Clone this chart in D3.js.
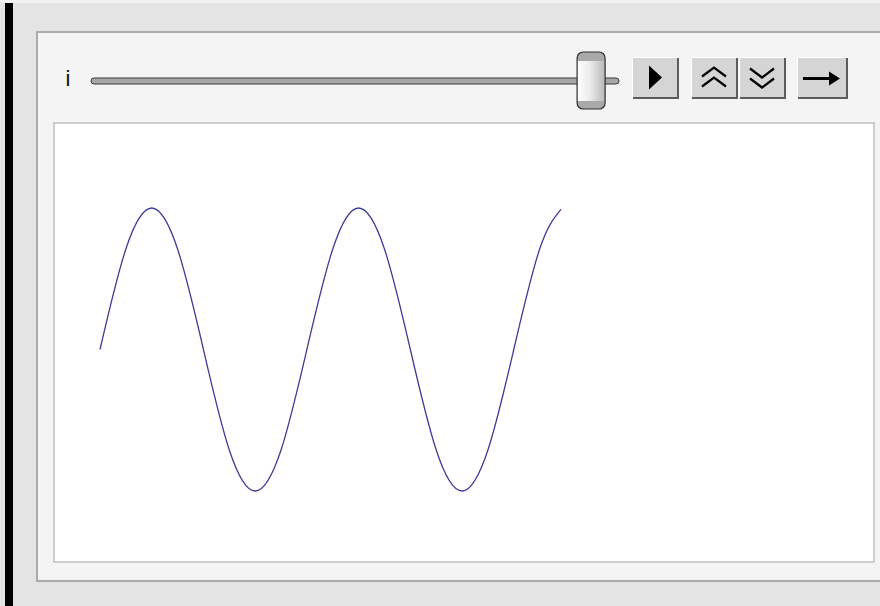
<!DOCTYPE html>
<html>
<head>
<meta charset="utf-8">
<script src="https://cdn.jsdelivr.net/npm/d3@7"></script>
<style>
html,body{margin:0;padding:0;background:#e4e4e4;overflow:hidden;}
svg{display:block;}
</style>
</head>
<body>
<svg id="chart" width="880" height="606"></svg>
<script>
// ---- data ----
const sliderLabel = "i";
const sliderValue = 14;
const sliderMin = 0;
const sliderMax = 14.4;
const xs = [0, 0.785, 1.571, 2.356, 3.142, 3.927, 4.712, 5.498, 6.283, 7.069, 7.854, 8.639, 9.425, 10.21, 10.996, 11.781, 12.566, 13.352, 14];
const ys = [0, 0.71, 1, 0.71, 0, -0.71, -1, -0.71, 0, 0.71, 1, 0.71, 0, -0.71, -1, -0.71, 0, 0.71, 0.99];
const buttons = ["play", "faster", "slower", "step"];

const svg = d3.select("#chart");

// page background and left bar
svg.append("rect").attr("x",0).attr("y",0).attr("width",880).attr("height",606).attr("fill","#e4e4e4");
svg.append("rect").attr("x",0).attr("y",0).attr("width",880).attr("height",3).attr("fill","#f2f2f2");
svg.append("rect").attr("x",5).attr("y",3).attr("width",8).attr("height",603).attr("fill","#000");

// outer panel
svg.append("rect").attr("x",37).attr("y",32).attr("width",860).attr("height",549)
  .attr("fill","#f4f4f4").attr("stroke","#ababab").attr("stroke-width",2);

// plot frame
svg.append("rect").attr("x",54).attr("y",123).attr("width",820).attr("height",439)
  .attr("fill","#ffffff").attr("stroke","#c3c3c3").attr("stroke-width",1.6);

// slider label
svg.append("text").attr("x",68).attr("y",86).attr("text-anchor","middle")
  .attr("font-family","Liberation Sans, Arial, sans-serif").attr("font-size",22)
  .attr("fill","#111").text(sliderLabel);

// slider track
const trackX0 = 91, trackX1 = 619, trackY = 81;
svg.append("rect").attr("x",trackX0).attr("y",trackY-3).attr("width",trackX1-trackX0).attr("height",6)
  .attr("rx",3).attr("fill","#a6a6a6").attr("stroke","#3a3a3a").attr("stroke-width",1);

const sliderScale = d3.scaleLinear().domain([sliderMin, sliderMax]).range([trackX0+14, trackX1-14]);

// thumb gradients
const defs = svg.append("defs");
const gBody = defs.append("linearGradient").attr("id","thumbBody").attr("x1","0").attr("x2","1").attr("y1","0").attr("y2","0");
gBody.append("stop").attr("offset","0").attr("stop-color","#ffffff");
gBody.append("stop").attr("offset","0.45").attr("stop-color","#ececec");
gBody.append("stop").attr("offset","1").attr("stop-color","#b8b8b8");
const clip = defs.append("clipPath").attr("id","thumbClip");
const tx = sliderScale(sliderValue), tw = 28, ty0 = 52, th = 57;
clip.append("rect").attr("x",tx-tw/2).attr("y",ty0).attr("width",tw).attr("height",th).attr("rx",6);
const thumb = svg.append("g");
thumb.append("rect").attr("x",tx-tw/2).attr("y",ty0).attr("width",tw).attr("height",th).attr("rx",6).attr("fill","url(#thumbBody)");
thumb.append("rect").attr("x",tx-tw/2).attr("y",ty0).attr("width",tw).attr("height",9).attr("fill","#a9a9a9").attr("clip-path","url(#thumbClip)");
thumb.append("rect").attr("x",tx-tw/2).attr("y",ty0+th-8).attr("width",tw).attr("height",8).attr("fill","#a9a9a9").attr("clip-path","url(#thumbClip)");
thumb.append("rect").attr("x",tx-tw/2).attr("y",ty0).attr("width",tw).attr("height",th).attr("rx",6)
  .attr("fill","none").attr("stroke","#2e2e2e").attr("stroke-width",1.2);

// buttons
const btnX = [633, 692, 740, 798];
const btnW = [46, 46, 46, 50];
const btnY = 58, btnH = 41;
buttons.forEach((b,i)=>{
  const g = svg.append("g").attr("transform",`translate(${btnX[i]},${btnY})`);
  const w = btnW[i];
  g.append("rect").attr("x",0).attr("y",0).attr("width",w).attr("height",btnH).attr("fill","#d5d5d5");
  g.append("rect").attr("x",0).attr("y",btnH-2).attr("width",w).attr("height",2).attr("fill","#5c5c5c");
  g.append("rect").attr("x",w-2).attr("y",0).attr("width",2).attr("height",btnH).attr("fill","#5c5c5c");
  g.append("rect").attr("x",-1).attr("y",-1).attr("width",w).attr("height",1).attr("fill","#ffffff");
  g.append("rect").attr("x",-1).attr("y",-1).attr("width",1).attr("height",btnH).attr("fill","#ffffff");
  const cx = w/2 - 1, cy = btnH/2 - 1;
  if (b === "play") {
    g.append("path").attr("d",`M${cx-6},${cy-12}L${cx+7},${cy}L${cx-6},${cy+12}Z`).attr("fill","#000");
  } else if (b === "faster") {
    g.append("path").attr("d",`M${cx-12},${cy-1}L${cx},${cy-10}L${cx+12},${cy-1}M${cx-12},${cy+9}L${cx},${cy}L${cx+12},${cy+9}`)
      .attr("fill","none").attr("stroke","#000").attr("stroke-width",2.2);
  } else if (b === "slower") {
    g.append("path").attr("d",`M${cx-12},${cy-9}L${cx},${cy}L${cx+12},${cy-9}M${cx-12},${cy+1}L${cx},${cy+10}L${cx+12},${cy+1}`)
      .attr("fill","none").attr("stroke","#000").attr("stroke-width",2.2);
  } else {
    g.append("line").attr("x1",cx-19).attr("x2",cx+10).attr("y1",cy+1).attr("y2",cy+1).attr("stroke","#000").attr("stroke-width",3);
    g.append("path").attr("d",`M${cx+7},${cy-6}L${cx+18},${cy+1}L${cx+7},${cy+8}Z`).attr("fill","#000");
  }
});

// curve
const x = d3.scaleLinear().domain([0, 14]).range([100, 561]);
const y = d3.scaleLinear().domain([-1, 1]).range([491, 208]);
const pts = xs.map((v,i)=>[v, ys[i]]);
svg.append("path").datum(pts)
  .attr("d", d3.line().x(d=>x(d[0])).y(d=>y(d[1])).curve(d3.curveNatural))
  .attr("fill","none").attr("stroke","#3d3d99").attr("stroke-width",1.3);
</script>
</body>
</html>
